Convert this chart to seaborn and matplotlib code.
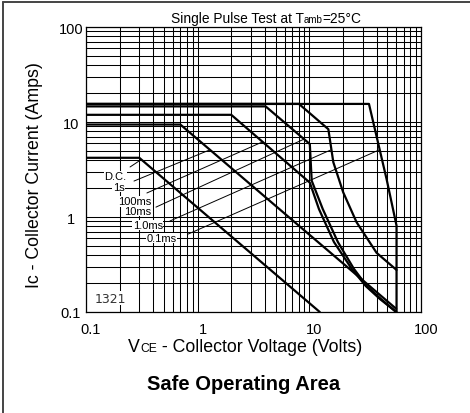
import numpy as np
import pandas as pd
import matplotlib
matplotlib.use("Agg")
import matplotlib.pyplot as plt
import seaborn as sns
from matplotlib.lines import Line2D
from matplotlib.offsetbox import TextArea, HPacker, AnnotationBbox
from matplotlib.transforms import ScaledTranslation
from matplotlib.ticker import LogLocator, NullFormatter

# ---- data ----
dc_v = [0.1, 0.30, 12.4]
dc_i = [4.2, 4.2, 0.1]
s1_v = [0.1, 0.70, 60.0]
s1_i = [9.4, 9.4, 0.108]
ms100_v = [0.1, 2.0, 10.1, 12.2, 16.6, 24.0, 32.1, 42.9, 60.0]
ms100_i = [11.9, 11.9, 2.3, 1.21, 0.546, 0.284, 0.187, 0.137, 0.1]
ms10_v = [0.1, 4.06, 10.1, 10.5, 13.2, 18.0, 25.1, 32.8, 43.8, 60.0]
ms10_i = [14.6, 14.6, 5.86, 2.41, 1.21, 0.546, 0.284, 0.187, 0.137, 0.1]
ms1_v = [0.1, 8.07, 14.8, 16.4, 20.1, 26.5, 40.0, 60.4]
ms1_i = [15.5, 15.5, 8.4, 3.77, 1.82, 0.88, 0.42, 0.277]
ms01_v = [0.1, 34.2, 49.2, 60.4, 60.4]
ms01_i = [15.5, 15.5, 2.5, 0.81, 0.1]

labels = ["D.C.", "1s", "100ms", "10ms", "1.0ms", "0.1ms"]
label_x = [0.182, 0.196, 0.275, 0.290, 0.359, 0.479]
label_y = [2.70, 2.09, 1.47, 1.16, 0.824, 0.601]
ptr_x0 = [0.248, 0.269, 0.351, 0.423, 0.565, 0.824]
ptr_y0 = [3.36, 2.39, 1.79, 1.27, 0.908, 0.662]
ptr_x1 = [0.31, 1.29, 3.84, 8.95, 15.5, 42.5]
ptr_y1 = [4.0, 5.1, 6.2, 6.6, 5.07, 5.1]

x_ticks = [0.1, 1, 10, 100]
x_ticklabels = ["0.1", "1", "10", "100"]
y_ticks = [0.1, 1, 10, 100]
y_ticklabels = ["0.1", "1", "10", "100"]

curves = {"D.C.": (dc_v, dc_i), "1s": (s1_v, s1_i), "100ms": (ms100_v, ms100_i),
          "10ms": (ms10_v, ms10_i), "1.0ms": (ms1_v, ms1_i), "0.1ms": (ms01_v, ms01_i)}
rows = []
for name, (vs, cs) in curves.items():
    for k, (v, c) in enumerate(zip(vs, cs)):
        rows.append({"curve": name, "order": k, "V": v, "I": c})
df = pd.DataFrame(rows)

sns.set_theme(style="white")
plt.rcParams['font.family'] = ['Liberation Sans', 'DejaVu Sans']

fig = plt.figure(figsize=(4.7, 4.14), dpi=100)
ax = fig.add_axes([86/470, 1-313/414, (421-86)/470, (313-28)/414])
ax.set_xscale("log")
ax.set_yscale("log")
ax.set_xlim(0.1, 100)
ax.set_ylim(0.1, 100)

ax.grid(which="both", color="black", lw=0.75)
ax.set_axisbelow(True)
ax.xaxis.set_minor_locator(LogLocator(base=10, subs=np.arange(2, 10)))
ax.yaxis.set_minor_locator(LogLocator(base=10, subs=np.arange(2, 10)))
ax.xaxis.set_minor_formatter(NullFormatter())
ax.yaxis.set_minor_formatter(NullFormatter())

sns.lineplot(data=df, x="V", y="I", units="curve", estimator=None, sort=False,
             color="black", lw=1.6, ax=ax, legend=False)

for lab, lx, ly, x0, y0, x1, y1 in zip(labels, label_x, label_y, ptr_x0, ptr_y0, ptr_x1, ptr_y1):
    ax.plot([x0, x1], [y0, y1], color="black", lw=0.7)
    ax.text(lx, ly, lab, ha="center", va="center", fontsize=8, color="black",
            bbox=dict(facecolor="white", edgecolor="none", pad=0.3))

ax.text(0.074, 0.049, "1321", transform=ax.transAxes, ha="center", va="center",
        fontsize=9, color="#333333", family="DejaVu Sans",
        bbox=dict(facecolor="white", edgecolor="none", pad=0.5))

for s in ax.spines.values():
    s.set_color("black")
    s.set_linewidth(0.9)

ax.set_xticks(x_ticks)
ax.set_xticklabels(x_ticklabels)
ax.set_yticks(y_ticks)
ax.set_yticklabels(y_ticklabels)
ax.tick_params(axis="both", which="both", length=0, labelsize=10.5, colors="black")
ax.tick_params(axis="x", pad=7)
ax.tick_params(axis="y", pad=11)
for t in ax.get_yticklabels():
    t.set_ha("center")
off = ScaledTranslation(5/100, 0, fig.dpi_scale_trans)
for t in ax.get_xticklabels():
    t.set_transform(t.get_transform() + off)
ax.set_xlabel("")
ax.set_ylabel("")

def packed(parts, xy):
    boxes = [TextArea(s, textprops=dict(fontsize=fs, color="black", fontweight=fw,
                                        family=['Liberation Sans', 'DejaVu Sans']))
             for s, fs, fw in parts]
    pk = HPacker(children=boxes, align="baseline", pad=0, sep=0)
    ab = AnnotationBbox(pk, xy, xycoords="figure fraction", frameon=False,
                        box_alignment=(0.5, 0.5), pad=0, annotation_clip=False)
    fig.add_artist(ab)

packed([("Single Pulse Test at T", 9.9, "normal"), ("amb", 7, "normal"), ("=25°C", 9.9, "normal")],
       (266/470, 1-19/414))
packed([("V", 12.8, "normal"), ("CE", 8.7, "normal"), (" - Collector Voltage (Volts)", 12.8, "normal")],
       (245/470, 1-348/414))
fig.text(35/470, 1-175/414, "Ic - Collector Current (Amps)", rotation=90, ha="center",
         va="center", fontsize=12.8, color="black")
fig.text(244/470, 1-385/414, "Safe Operating Area", ha="center", va="center",
         fontsize=14.5, fontweight="bold", color="black")

fig.add_artist(Line2D([3/470, 3/470], [0, 1-2.5/414], transform=fig.transFigure,
                      color="#444444", lw=1.4))
fig.add_artist(Line2D([3/470, 1], [1-2.5/414, 1-2.5/414], transform=fig.transFigure,
                      color="#444444", lw=1.4))

fig.savefig("out.png", dpi=100)
